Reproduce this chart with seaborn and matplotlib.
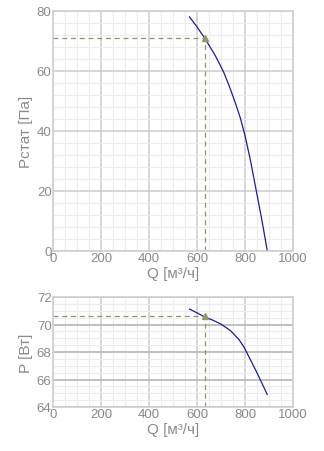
import matplotlib
matplotlib.use("Agg")
import matplotlib.pyplot as plt
import seaborn as sns
import pandas as pd
from matplotlib.ticker import MultipleLocator

sns.set_theme(style="white")
plt.rcParams['font.family'] = ['Liberation Sans', 'DejaVu Sans']

# Data
q_pressure = [568, 600, 635, 677, 709, 733, 757, 780, 800, 822, 846, 871, 893]
p_static = [78.1, 74.7, 70.6, 65.0, 60.0, 55.3, 50.0, 44.5, 38.5, 30.5, 20.5, 10.0, 0.0]
q_power = [568, 600, 632, 665, 698, 740, 775, 796, 815, 851, 893]
p_power = [71.13, 70.85, 70.55, 70.32, 70.05, 69.55, 68.9, 68.35, 67.7, 66.45, 64.9]
op_q = 632
op_pst = 71.0
op_pw = 70.6

x_ticks = [0, 200, 400, 600, 800, 1000]
y1_ticks = [0, 20, 40, 60, 80]
y2_ticks = [64, 66, 68, 70, 72]

df1 = pd.DataFrame({"Q": q_pressure, "P": p_static})
df2 = pd.DataFrame({"Q": q_power, "P": p_power})

fig = plt.figure(figsize=(3.24, 4.52), dpi=100)
W, H = 324, 452
ax1 = fig.add_axes([53 / W, 1 - 252 / H, 240 / W, 240 / H])
ax2 = fig.add_axes([53 / W, 1 - 408 / H, 240 / W, 110 / H])

text_c = "#8a8a8a"
line_c = "#1c1ca0"
dash_c = "#8f9470"


def style(ax, ylim, yticks, ymin, hmajor_c):
    ax.set_xlim(0, 1000)
    ax.set_ylim(*ylim)
    ax.set_xticks(x_ticks)
    ax.set_yticks(yticks)
    ax.xaxis.set_minor_locator(MultipleLocator(50))
    ax.yaxis.set_minor_locator(MultipleLocator(ymin))
    ax.grid(which="minor", color="#ececec", linewidth=0.8)
    ax.grid(which="major", axis="x", color="#cfcfcf", linewidth=1.2)
    ax.grid(which="major", axis="y", color=hmajor_c, linewidth=1.2)
    ax.set_axisbelow(True)
    for s in ax.spines.values():
        s.set_color("#cfcfcf")
        s.set_linewidth(1.2)
    ax.tick_params(axis="both", which="both", length=0, labelsize=9.5,
                   labelcolor=text_c, pad=1)
    ax.set_xlabel("Q [м³/ч]", color=text_c, fontsize=11, labelpad=1)


sns.lineplot(data=df1, x="Q", y="P", ax=ax1, color=line_c, linewidth=0.9)
ax1.plot([0, op_q], [op_pst, op_pst], ls=(0, (4, 3)), color=dash_c, lw=0.9)
ax1.plot([op_q, op_q], [0, op_pst], ls=(0, (4, 3)), color=dash_c, lw=0.9)
ax1.plot([op_q], [op_pst], marker="^", color="#8f9a6a", markersize=5, ls="none")
style(ax1, (0, 80), y1_ticks, 4, "#cfcfcf")
ax1.set_ylabel("Pстат [Па]", color=text_c, fontsize=11, labelpad=3)

sns.lineplot(data=df2, x="Q", y="P", ax=ax2, color=line_c, linewidth=0.9)
ax2.plot([0, op_q], [op_pw, op_pw], ls=(0, (4, 3)), color=dash_c, lw=0.9)
ax2.plot([op_q, op_q], [64, op_pw], ls=(0, (4, 3)), color=dash_c, lw=0.9)
ax2.plot([op_q], [op_pw], marker="^", color="#8f9a6a", markersize=5, ls="none")
style(ax2, (64, 72), y2_ticks, 0.5, "#b5b5b5")
ax2.set_ylabel("P [Вт]", color=text_c, fontsize=11, labelpad=3)

fig.savefig("out.png", dpi=100)
